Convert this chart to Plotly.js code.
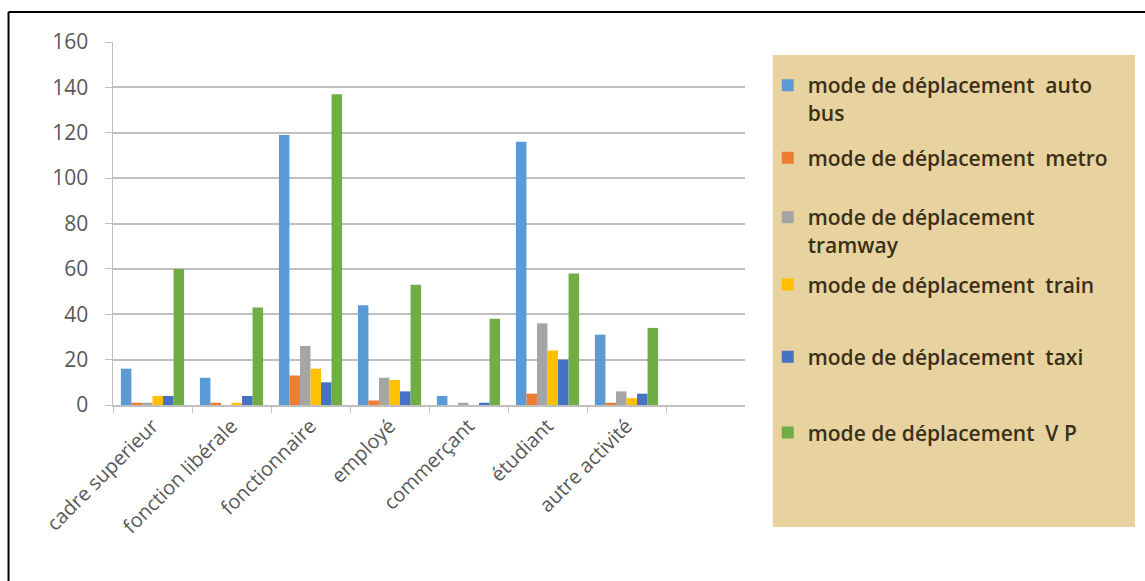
<!DOCTYPE html>
<html>
<head>
<meta charset="utf-8">
<script src="https://cdn.plot.ly/plotly-3.0.1.min.js"></script>
<style>html,body{margin:0;padding:0;background:#fff;}#chart{width:1145px;height:581px;}</style>
</head>
<body>
<div id="chart"></div>
<script>
const categories = ['cadre superieur','fonction libérale','fonctionnaire','employé','commerçant','étudiant','autre activité'];
const seriesNames = [
  'mode de déplacement\u00A0 auto<br>bus',
  'mode de déplacement\u00A0 metro',
  'mode de déplacement<br>tramway',
  'mode de déplacement\u00A0 train',
  'mode de déplacement\u00A0 taxi',
  'mode de déplacement\u00A0 V P'
];
const autobus = [16, 12, 119, 44, 4, 116, 31];
const metro   = [1, 1, 13, 2, 0, 5, 1];
const tramway = [1, 0, 26, 12, 1, 36, 6];
const train   = [4, 1, 16, 11, 0, 24, 3];
const taxi    = [4, 4, 10, 6, 1, 20, 5];
const vp      = [60, 43, 137, 53, 38, 58, 34];
const yTicks  = [0, 20, 40, 60, 80, 100, 120, 140, 160];

const seriesValues = [autobus, metro, tramway, train, taxi, vp];
const colors = ['#5B9BD5','#ED7D31','#A5A5A5','#FFC000','#4472C4','#70AD47'];
const legendIds = ['legend','legend2','legend3','legend4','legend5','legend6'];
const legendY = [0.843, 0.680, 0.479, 0.331, 0.132, -0.077];

const traces = seriesValues.map((vals, i) => ({
  type: 'bar',
  name: seriesNames[i],
  x: categories,
  y: vals,
  marker: {color: colors[i]},
  legend: legendIds[i],
  hoverinfo: 'x+y+name'
}));

const legendFont = {family: 'Open Sans, sans-serif', size: 21, weight: 600, color: '#3A3018'};
const layout = {
  width: 1145, height: 581,
  margin: {l: 113, r: 400, t: 42, b: 176},
  paper_bgcolor: '#ffffff',
  plot_bgcolor: '#ffffff',
  barmode: 'group',
  bargap: 0.2,
  bargroupgap: 0,
  showlegend: true,
  xaxis: {
    type: 'category',
    categoryorder: 'array',
    categoryarray: categories,
    range: [-0.5, 7.5],
    tickangle: -45,
    tickson: 'boundaries',
    ticks: 'outside',
    ticklen: 6,
    tickcolor: '#BFBFBF',
    showline: true,
    linecolor: '#BFBFBF',
    linewidth: 1.5,
    showgrid: false,
    tickfont: {family: 'Open Sans, sans-serif', size: 20, color: '#595959'}
  },
  yaxis: {
    range: [0, 160],
    tickvals: yTicks,
    ticktext: yTicks.map(String),
    ticks: 'outside',
    ticklen: 7,
    tickcolor: '#BFBFBF',
    ticklabelstandoff: 12,
    showline: true,
    linecolor: '#BFBFBF',
    linewidth: 1.5,
    showgrid: true,
    gridcolor: '#BFBFBF',
    gridwidth: 2,
    zeroline: false,
    tickfont: {family: 'Open Sans, sans-serif', size: 21, color: '#595959'}
  },
  shapes: [
    {type: 'rect', xref: 'paper', yref: 'paper', x0: 1.044, x1: 1.617, y0: -0.336, y1: 0.964,
     fillcolor: '#E8D29F', line: {width: 0}, layer: 'below'},
    {type: 'line', xref: 'paper', yref: 'paper', x0: -0.1653, x1: -0.1653, y0: 1.0826, y1: -0.49,
     line: {color: '#000000', width: 2}},
    {type: 'line', xref: 'paper', yref: 'paper', x0: -0.1653, x1: 1.64, y0: 1.0826, y1: 1.0826,
     line: {color: '#000000', width: 2}}
  ]
};
legendIds.forEach((id, i) => {
  layout[id] = {
    x: 1.036, xanchor: 'left',
    y: legendY[i], yanchor: 'middle',
    bgcolor: 'rgba(0,0,0,0)', borderwidth: 0,
    valign: 'top',
    font: legendFont
  };
});

Plotly.newPlot('chart', traces, layout, {displayModeBar: false, staticPlot: true});
</script>
</body>
</html>
